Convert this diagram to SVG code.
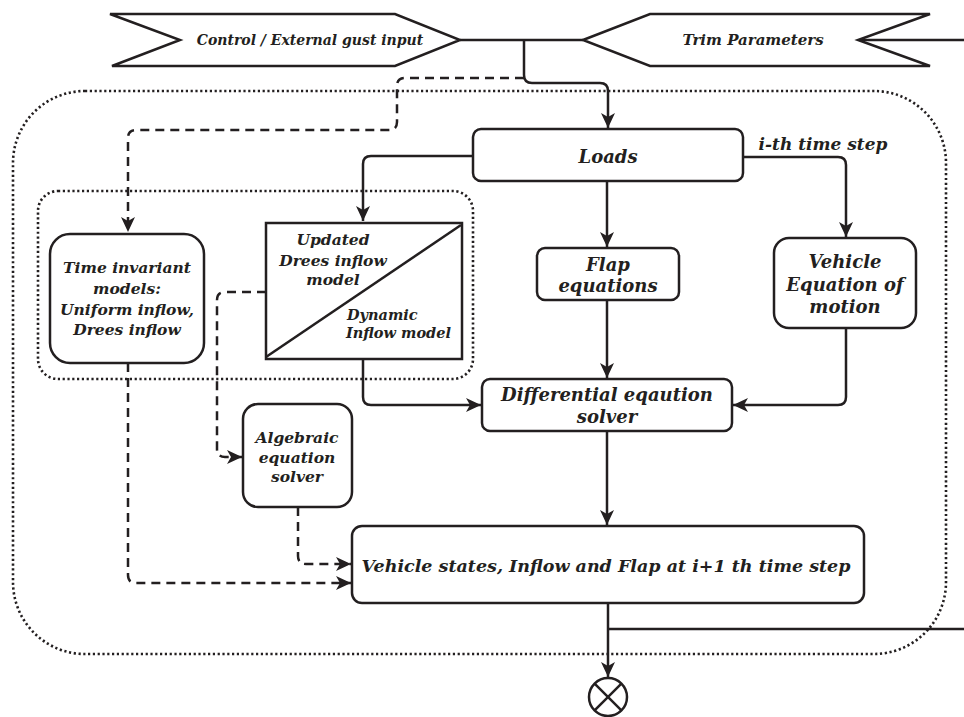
<svg xmlns="http://www.w3.org/2000/svg" width="964" height="717" viewBox="0 0 964 717">
<defs>
<style>
.box{fill:#fff;stroke:#231f20;stroke-width:2.5}
.ln{fill:none;stroke:#231f20;stroke-width:2.5}
.dash{fill:none;stroke:#231f20;stroke-width:2.5;stroke-dasharray:9 6}
.dot{fill:none;stroke:#231f20;stroke-width:2.6;stroke-dasharray:2.2 2.6}
text{font-family:"DejaVu Serif","Liberation Serif",serif;font-weight:bold;font-style:italic;fill:#231f20;text-anchor:middle}
.t14{font-size:14px}
.t155{font-size:15.5px}
.t17{font-size:17px}
.t18{font-size:18px}
.left{text-anchor:start;font-size:14.5px}
</style>
<marker id="arr" markerUnits="userSpaceOnUse" markerWidth="16" markerHeight="14" refX="15" refY="7" orient="auto" viewBox="0 0 16 14">
<path d="M0,0 L15,7 L0,14 L4,7 z" fill="#231f20"/>
</marker>
</defs>
<rect width="964" height="717" fill="#fff"/>

<g id="containers">
<rect class="dot" x="13" y="91" width="933" height="563" rx="72" ry="72"/>
<rect class="dot" x="38" y="191" width="435" height="188" rx="20" ry="20"/>
</g>

<g id="connectors">
<path class="ln" d="M460,40 H583"/>
<path class="ln" d="M858,40 H964"/>
<path class="ln" d="M524,40 V75 Q524,83 532,83 H600 Q608,83 608,91 V128" marker-end="url(#arr)"/>
<path class="dash" d="M524,78 H405 Q397,78 397,86 V122 Q397,130 389,130 H136 Q128,130 128,138 V232" marker-end="url(#arr)"/>
<path class="ln" d="M473,156 H371 Q363,156 363,164 V221" marker-end="url(#arr)"/>
<path class="ln" d="M743,157 H838 Q846,157 846,165 V237" marker-end="url(#arr)"/>
<path class="ln" d="M607,181 V247" marker-end="url(#arr)"/>
<path class="ln" d="M607,300 V378" marker-end="url(#arr)"/>
<path class="ln" d="M846,328 V397 Q846,405 838,405 H733" marker-end="url(#arr)"/>
<path class="ln" d="M363,359 V397 Q363,405 371,405 H481" marker-end="url(#arr)"/>
<path class="dash" d="M266,292 H225 Q217,292 217,300 V449 Q217,457 225,457 H242" marker-end="url(#arr)"/>
<path class="dash" d="M298,507 V556 Q298,564 306,564 H351" marker-end="url(#arr)"/>
<path class="dash" d="M128,363 V575 Q128,583 136,583 H351" marker-end="url(#arr)"/>
<path class="ln" d="M607,431 V525" marker-end="url(#arr)"/>
<path class="ln" d="M608,603 V677" marker-end="url(#arr)"/>
<path class="ln" d="M608,629 H964"/>
</g>

<g id="control">
<polygon class="box" points="110,14 395,14 460,40 395,66 112,66 180,40"/>
<text class="t14" x="310" y="45">Control / External gust input</text>
</g>

<g id="trim">
<polygon class="box" points="583,40 650,14 930,14 858,40 930,66 650,66"/>
<text style="font-size:15px" x="753" y="45">Trim Parameters</text>
</g>

<g id="loads">
<rect class="box" x="473" y="129" width="270" height="52" rx="8"/>
<text class="t18" x="608" y="163">Loads</text>
</g>

<text id="ith" class="t17" x="823" y="150">i-th time step</text>

<g id="flap">
<rect class="box" x="537" y="248" width="142" height="52" rx="8"/>
<text class="t18" x="608" y="271">Flap</text>
<text class="t18" x="608" y="292">equations</text>
</g>

<g id="vehicle">
<rect class="box" x="774" y="238" width="142" height="90" rx="15"/>
<text class="t18" x="845" y="268">Vehicle</text>
<text class="t18" x="845" y="291">Equation of</text>
<text class="t18" x="845" y="313">motion</text>
</g>

<g id="diff">
<rect class="box" x="482" y="379" width="250" height="52" rx="8"/>
<text class="t18" x="607" y="401">Differential eqaution</text>
<text class="t18" x="607" y="423">solver</text>
</g>

<g id="inflow">
<rect class="box" x="266" y="223" width="196" height="136"/>
<line class="ln" x1="266" y1="357" x2="461" y2="225"/>
<text class="t155" x="333" y="245">Updated</text>
<text class="t155" x="333" y="266">Drees inflow</text>
<text class="t155" x="333" y="285">model</text>
<text class="left" x="347" y="320">Dynamic</text>
<text class="left" x="346" y="338">Inflow model</text>
</g>

<g id="timeinv">
<rect class="box" x="50" y="234" width="154" height="129" rx="20"/>
<text class="t155" x="127" y="273">Time invariant</text>
<text class="t155" x="127" y="294">models:</text>
<text class="t155" x="127" y="315">Uniform inflow,</text>
<text class="t155" x="127" y="335">Drees inflow</text>
</g>

<g id="algebraic">
<rect class="box" x="243" y="404" width="109" height="103" rx="15"/>
<text class="t155" x="297" y="443">Algebraic</text>
<text class="t155" x="297" y="463">equation</text>
<text class="t155" x="297" y="482">solver</text>
</g>

<g id="states">
<rect class="box" x="352" y="526" width="512" height="77" rx="10"/>
<text style="font-size:17.5px" x="606" y="572">Vehicle states, Inflow and Flap at i+1 th time step</text>
</g>

<g id="sum">
<circle class="box" cx="608" cy="697" r="19"/>
<line class="ln" x1="594.6" y1="683.6" x2="621.4" y2="710.4"/>
<line class="ln" x1="621.4" y1="683.6" x2="594.6" y2="710.4"/>
</g>
</svg>
